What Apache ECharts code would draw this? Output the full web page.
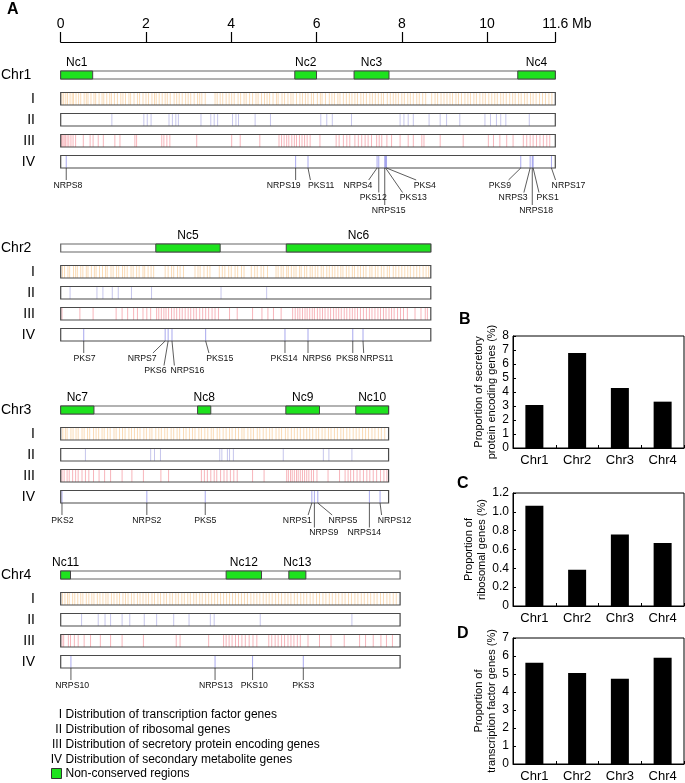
<!DOCTYPE html>
<html><head><meta charset="utf-8">
<script src="https://cdn.jsdelivr.net/npm/echarts@6/dist/echarts.min.js"></script>
<style>html,body{margin:0;padding:0;background:#fff}#c{width:685px;height:783px}</style>
</head><body><div id="c"></div>
<script>
// ---------------- DATA ----------------
const chrNames = ['Chr1', 'Chr2', 'Chr3', 'Chr4'];
const chrLengths = [11.6, 8.68, 7.69, 7.96];           // Mb
const scaleMax = 11.6;

const ncNames = ['Nc1','Nc2','Nc3','Nc4','Nc5','Nc6','Nc7','Nc8','Nc9','Nc10','Nc11','Nc12','Nc13'];
const ncChr   = [0, 0, 0, 0, 1, 1, 2, 2, 2, 2, 3, 3, 3];
const ncStart = [0, 5.49, 6.88, 10.72, 2.23, 5.29, 0, 3.21, 5.28, 6.92, 0, 3.88, 5.35];
const ncEnd   = [0.75, 6.0, 7.70, 11.6, 3.74, 8.68, 0.78, 3.52, 6.07, 7.69, 0.23, 4.71, 5.75];

const trackLabels = ['I', 'II', 'III', 'IV'];

// I  transcription factor genes (Mb)
const chr1TF = [0.03,0.07,0.12,0.16,0.22,0.27,0.3,0.36,0.42,0.47,0.55,0.6,0.64,0.71,0.78,0.82,0.9,0.97,1.01,1.08,1.15,1.19,1.26,1.33,1.41,1.46,1.52,1.6,1.64,1.72,1.8,1.85,1.93,2.0,2.06,2.14,2.2,2.24,2.31,2.38,2.45,2.5,2.57,2.66,2.72,2.78,2.85,2.93,2.99,3.05,3.13,3.21,3.26,3.31,3.39,3.62,3.67,3.74,3.8,3.88,3.95,4.01,4.07,4.16,4.22,4.3,4.35,4.43,4.5,4.58,4.63,4.71,4.78,4.84,4.9,4.98,5.06,5.1,5.19,5.25,5.33,5.4,5.45,5.53,5.61,5.67,5.74,5.8,5.88,5.93,6.02,6.09,6.13,6.21,6.3,6.36,6.42,6.5,6.55,6.63,6.7,6.77,6.83,6.9,6.96,7.04,7.1,7.17,7.25,7.31,7.38,7.45,7.52,7.57,7.66,7.73,7.8,7.86,7.92,8.0,8.06,8.14,8.2,8.27,8.35,8.41,8.49,8.56,8.7,8.78,8.84,8.92,8.99,9.06,9.13,9.19,9.27,9.33,9.4,9.48,9.55,9.61,9.69,9.75,9.83,9.9,9.96,10.04,10.11,10.18,10.24,10.32,10.38,10.45,10.53,10.6,10.66,10.74,10.8,10.88,10.94,11.02,11.08,11.15,11.23,11.3,11.37,11.45,11.52];
const chr2TF = [0.04,0.09,0.17,0.21,0.3,0.35,0.39,0.47,0.52,0.6,0.64,0.72,0.79,0.83,0.91,0.98,1.05,1.09,1.18,1.23,1.31,1.36,1.45,1.5,1.56,1.65,1.7,1.78,1.84,1.93,1.97,2.05,2.12,2.18,2.45,2.52,2.6,2.65,2.74,2.8,2.88,3.15,3.22,3.27,3.36,3.44,3.5,3.72,3.79,3.85,3.94,4.0,4.09,4.15,4.24,4.3,4.47,4.55,4.61,4.7,4.76,4.85,5.05,5.1,5.17,5.22,5.3,5.34,5.41,5.47,5.52,5.6,5.64,5.72,5.77,5.85,5.9,5.97,6.03,6.11,6.16,6.24,6.3,6.37,6.43,6.5,6.57,6.62,6.7,6.76,6.84,6.89,6.97,7.03,7.1,7.16,7.25,7.3,7.38,7.44,7.52,7.58,7.66,7.71,7.8,7.86,7.93,8.0,8.07,8.14,8.2,8.28,8.35,8.42,8.5,8.57,8.63];
const chr3TF = [0.05,0.11,0.15,0.24,0.29,0.36,0.41,0.5,0.55,0.63,0.68,0.77,0.83,0.89,0.97,1.02,1.1,1.16,1.25,1.3,1.38,1.45,1.51,1.6,1.66,1.73,1.8,1.86,1.95,2.01,2.09,2.14,2.23,2.3,2.36,2.44,2.5,2.59,2.65,2.73,2.79,2.88,2.94,3.02,3.09,3.15,3.24,3.3,3.38,3.45,3.53,3.58,3.67,3.73,3.81,3.88,3.96,4.02,4.1,4.17,4.25,4.3,4.39,4.46,4.52,4.61,4.67,4.75,4.82,4.9,4.96,5.05,5.12,5.18,5.27,5.33,5.41,5.48,5.55,5.62,5.7,5.77,5.84,5.91,5.99,6.05,6.13,6.2,6.28,6.34,6.42,6.49,6.57,6.63,6.71,6.78,6.86,6.93,7.0,7.08,7.15,7.22,7.3,7.37,7.45,7.52,7.6];
const chr4TF = [0.04,0.1,0.16,0.2,0.28,0.33,0.4,0.47,0.52,0.6,0.66,0.73,0.78,0.86,0.92,0.99,1.06,1.11,1.19,1.25,1.32,1.38,1.46,1.52,1.58,1.66,1.72,1.8,1.86,1.93,2.0,2.06,2.14,2.2,2.28,2.34,2.42,2.48,2.56,2.62,2.7,2.76,2.84,2.9,2.98,3.04,3.12,3.18,3.26,3.32,3.4,3.47,3.54,3.61,3.68,3.75,3.82,3.89,3.96,4.03,4.1,4.17,4.24,4.31,4.38,4.46,4.53,4.6,4.67,4.75,4.82,4.89,4.96,5.04,5.11,5.18,5.26,5.33,5.4,5.48,5.55,5.63,5.7,5.77,5.85,5.92,6.0,6.07,6.15,6.22,6.3,6.37,6.45,6.52,6.6,6.67,6.75,6.82,6.9,6.97,7.05,7.12,7.2,7.27,7.35,7.42,7.5,7.57,7.65,7.72,7.8,7.87];

// II ribosomal genes (Mb)
const chr1Ribo = [1.20,1.95,2.03,2.12,2.54,2.62,2.70,2.76,3.29,3.52,3.60,3.68,4.03,4.11,4.17,4.56,4.92,6.10,6.24,6.37,6.82,7.96,8.05,8.15,8.27,8.64,8.90,9.05,9.36,9.95,10.08,10.22,10.32,10.44,10.99];
const chr2Ribo = [0.22,0.85,0.99,1.21,1.35,1.66,2.13,3.76,4.83];
const chr3Ribo = [0.58,2.11,2.2,2.34,3.73,3.78,3.91,3.96,4.05,5.22,6.16,6.29,6.83];
const chr4Ribo = [0.49,0.88,1.04,1.17,1.44,1.62,1.96,2.25,2.65,3.01,3.51,3.6,4.68,6.83];

// III secretory protein encoding genes (Mb)
const chr1Secr = [0.02,0.05,0.08,0.11,0.15,0.19,0.24,0.29,0.35,0.53,0.69,0.76,0.88,1.0,1.27,1.39,1.74,1.78,2.37,2.42,2.49,2.56,3.19,4.01,4.21,4.67,5.12,5.18,5.24,5.3,5.35,5.42,5.48,5.53,5.6,5.66,5.72,5.78,5.85,6.08,6.46,6.53,6.63,6.71,6.78,6.9,6.98,7.06,7.14,7.21,7.29,7.41,7.47,7.53,7.65,7.76,7.96,8.15,8.27,8.47,8.52,8.9,9.44,10.03,10.15,10.3,10.46,10.61,10.85,10.93,11.01,11.08,11.16,11.24,11.32,11.4,11.47];
const chr2Secr = [0.03,0.45,0.76,1.3,1.44,1.57,1.71,1.8,1.93,2.02,2.11,2.25,2.3,2.36,2.42,2.47,2.53,2.6,2.66,2.72,2.79,2.85,2.92,2.99,3.05,3.12,3.18,3.26,3.33,3.4,3.47,3.55,3.62,3.7,3.96,4.14,4.5,4.72,4.86,4.99,5.17,5.44,5.5,5.56,5.61,5.67,5.73,5.78,5.84,5.9,5.95,6.02,6.08,6.14,6.2,6.27,6.33,6.4,6.46,6.52,6.58,6.65,6.71,6.78,6.84,6.9,6.96,7.03,7.1,7.17,7.24,7.3,7.37,7.44,7.5,7.57,7.63,7.7,7.76,7.82,7.9,7.97,8.04,8.13,8.31,8.45,8.55,8.6];
const chr3Secr = [0.03,0.08,0.15,0.2,0.28,0.35,0.41,0.5,0.58,0.66,0.77,0.9,1.03,1.17,1.44,1.67,1.94,2.35,2.53,3.3,3.37,3.44,3.52,3.6,3.66,3.75,3.83,3.9,3.98,4.06,4.14,4.5,4.77,5.3,5.34,5.39,5.43,5.48,5.53,5.57,5.62,5.67,5.72,5.77,5.82,5.88,5.93,6.01,6.27,6.54,6.67,6.74,6.8,6.87,6.95,7.02,7.1,7.18,7.25,7.33,7.41,7.5,7.58,7.65];
const chr4Secr = [0.03,0.07,0.18,0.23,0.32,0.41,0.55,0.7,0.93,1.17,1.44,1.94,2.71,2.8,3.47,3.82,3.88,3.95,4.02,4.1,4.17,4.25,4.33,4.42,4.51,4.6,4.88,4.95,5.03,5.1,5.18,5.25,5.33,5.4,5.47,5.55,5.62,5.8,6.07,6.34,6.65,7.01,7.15,7.33,7.51,7.64,7.78];

// IV secondary metabolite genes
const smNames = ['NRPS8','NRPS19','PKS11','NRPS4','PKS12','NRPS15','PKS13','PKS4','PKS9','NRPS3','NRPS18','PKS1','NRPS17',
                 'PKS7','NRPS7','PKS6','NRPS16','PKS15','PKS14','NRPS6','PKS8','NRPS11',
                 'PKS2','NRPS2','PKS5','NRPS1','NRPS9','NRPS5','NRPS14','NRPS12',
                 'NRPS10','NRPS13','PKS10','PKS3'];
const smChr = [0,0,0,0,0,0,0,0,0,0,0,0,0, 1,1,1,1,1,1,1,1,1, 2,2,2,2,2,2,2,2, 3,3,3,3];
const smPos = [0.13,5.51,5.80,7.42,7.46,7.60,7.62,7.64,10.79,11.01,11.06,11.08,11.51,
               0.54,2.45,2.52,2.61,3.40,5.26,5.80,6.85,7.09,
               0.03,2.02,3.39,5.89,5.95,6.03,7.24,7.49,
               0.24,3.62,4.50,5.69];
const smLabelPos = [0.17,5.23,6.11,6.97,7.33,7.69,8.27,8.54,10.30,10.61,11.15,11.42,11.91,
                    0.56,1.91,2.22,2.97,3.73,5.24,6.01,6.72,7.41,
                    0.04,2.02,3.39,5.55,6.17,6.62,7.12,7.83,
                    0.27,3.64,4.54,5.69];
const smRow = [0,0,0,0,1,2,1,0,0,1,2,1,0, 0,0,1,1,0,0,0,0,0, 0,0,0,0,1,0,1,0, 0,0,0,0];

const legendNums = ['I', 'II', 'III', 'IV'];
const legendTexts = ['Distribution of transcription factor genes', 'Distribution of ribosomal genes',
  'Distribution of secretory protein encoding genes', 'Distribution of secondary metabolite genes'];
const legendNc = 'Non-conserved regions';

// bar panels B, C, D
const barCats = ['Chr1', 'Chr2', 'Chr3', 'Chr4'];
const secretoryPct = [3.07, 6.78, 4.28, 3.31];
const ribosomalPct = [1.065, 0.385, 0.76, 0.67];
const tfPct = [5.62, 5.05, 4.73, 5.9];

// ---------------- LAYOUT / STYLE ----------------
const FONT = '"Liberation Sans", Arial, Helvetica, sans-serif';
const NARROW = '"Liberation Sans Narrow", "Liberation Sans", Arial, sans-serif';
const CHR_TOP = [71, 244, 406, 571];
const BAR_H = 8;
const TRACK_OFF = [21.5, 42.5, 63.5, 84.5];
const TRACK_H = 12.5;
const ROW_Y = [17.5, 30, 42.5];
const TRACK_COLORS = ['rgba(242,170,80,0.42)', 'rgba(120,120,210,0.42)', 'rgba(235,70,85,0.4)', 'rgba(110,110,225,0.6)'];
const GREEN = '#1ee21e';

const tfAll = [chr1TF, chr2TF, chr3TF, chr4TF];
const riboAll = [chr1Ribo, chr2Ribo, chr3Ribo, chr4Ribo];
const secrAll = [chr1Secr, chr2Secr, chr3Secr, chr4Secr];

const lineData = [];
[tfAll, riboAll, secrAll].forEach((arr, t) => arr.forEach((list, c) => list.forEach(p => lineData.push([p, c, t]))));
smPos.forEach((p, i) => lineData.push([p, smChr[i], 3]));

const boxData = [];
chrLengths.forEach((L, c) => { for (let t = 0; t < 4; t++) boxData.push([L, c, t]); });
const chrData = chrLengths.map((L, c) => [L, c]);
const ncData = ncNames.map((n, i) => [ncStart[i], ncEnd[i], ncChr[i], i]);
const smData = smNames.map((n, i) => [smPos[i], smLabelPos[i], smChr[i], smRow[i], i]);

function txt(o) {
  return Object.assign({ fill: '#000', fontFamily: FONT }, o, {
    textAlign: o.align, textVerticalAlign: o.verticalAlign
  });
}

const graphics = [];
graphics.push({ type: 'text', x: 7, y: 9.5, style: txt({ text: 'A', fontSize: 16, fontWeight: 'bold', align: 'left', verticalAlign: 'middle' }) });
graphics.push({ type: 'text', x: 459, y: 319.5, style: txt({ text: 'B', fontSize: 16, fontWeight: 'bold', align: 'left', verticalAlign: 'middle' }) });
graphics.push({ type: 'text', x: 457, y: 484, style: txt({ text: 'C', fontSize: 16, fontWeight: 'bold', align: 'left', verticalAlign: 'middle' }) });
graphics.push({ type: 'text', x: 457, y: 634, style: txt({ text: 'D', fontSize: 16, fontWeight: 'bold', align: 'left', verticalAlign: 'middle' }) });
graphics.push({ type: 'text', x: 572, y: 24, style: txt({ text: 'Mb', fontSize: 14, align: 'left', verticalAlign: 'middle' }) });
chrNames.forEach((n, c) => {
  graphics.push({ type: 'text', x: 1, y: CHR_TOP[c] + BAR_H / 2, style: txt({ text: n, fontSize: 14, align: 'left', verticalAlign: 'middle' }) });
  trackLabels.forEach((t, k) => {
    graphics.push({ type: 'text', x: 35, y: CHR_TOP[c] + TRACK_OFF[k] + TRACK_H / 2, style: txt({ text: t, fontSize: 14, align: 'right', verticalAlign: 'middle' }) });
  });
});
const LEG_Y = [715, 729.5, 744.5, 759.5];
legendNums.forEach((n, i) => {
  graphics.push({ type: 'text', x: 62, y: LEG_Y[i], style: txt({ text: n, fontSize: 12, align: 'right', verticalAlign: 'middle' }) });
  graphics.push({ type: 'text', x: 65.5, y: LEG_Y[i], style: txt({ text: legendTexts[i], fontSize: 12, align: 'left', verticalAlign: 'middle' }) });
});
graphics.push({ type: 'rect', shape: { x: 51.5, y: 768.5, width: 10, height: 10 }, style: { fill: GREEN, stroke: '#333', lineWidth: 1 } });
graphics.push({ type: 'text', x: 65.5, y: 774, style: txt({ text: legendNc, fontSize: 12, align: 'left', verticalAlign: 'middle' }) });

function xOf(api, v) { return api.coord([v, 0])[0]; }

const series = [
  { // gene lines
    type: 'custom', xAxisIndex: 0, yAxisIndex: 0, z: 2, clip: false, silent: true,
    data: lineData,
    renderItem: (params, api) => {
      const x = xOf(api, api.value(0));
      const c = api.value(1), t = api.value(2);
      const y0 = CHR_TOP[c] + TRACK_OFF[t];
      return { type: 'line', shape: { x1: x, y1: y0, x2: x, y2: y0 + TRACK_H }, style: { stroke: TRACK_COLORS[t], lineWidth: 1 } };
    }
  },
  { // track boxes
    type: 'custom', xAxisIndex: 0, yAxisIndex: 0, z: 3, clip: false, silent: true,
    data: boxData,
    renderItem: (params, api) => {
      const x0 = xOf(api, 0), x1 = xOf(api, api.value(0));
      const c = api.value(1), t = api.value(2);
      const y0 = CHR_TOP[c] + TRACK_OFF[t];
      return { type: 'rect', shape: { x: x0, y: y0, width: x1 - x0, height: TRACK_H }, style: { fill: 'none', stroke: '#4a4a4a', lineWidth: 1.2 } };
    }
  },
  { // chromosome bars
    type: 'custom', xAxisIndex: 0, yAxisIndex: 0, z: 2, clip: false, silent: true,
    data: chrData,
    renderItem: (params, api) => {
      const x0 = xOf(api, 0), x1 = xOf(api, api.value(0));
      const c = api.value(1);
      return { type: 'rect', shape: { x: x0, y: CHR_TOP[c], width: x1 - x0, height: BAR_H }, style: { fill: '#fff', stroke: '#666', lineWidth: 1.2 } };
    }
  },
  { // non-conserved regions
    type: 'custom', xAxisIndex: 0, yAxisIndex: 0, z: 3, clip: false, silent: true,
    data: ncData,
    renderItem: (params, api) => {
      const x0 = xOf(api, api.value(0)), x1 = xOf(api, api.value(1));
      const c = api.value(2), i = api.value(3);
      return { type: 'group', children: [
        { type: 'rect', shape: { x: x0, y: CHR_TOP[c], width: x1 - x0, height: BAR_H }, style: { fill: GREEN, stroke: '#444', lineWidth: 1 } },
        { type: 'text', style: txt({ text: ncNames[i], x: (x0 + x1) / 2, y: CHR_TOP[c] - 8.5, fontSize: 12, align: 'center', verticalAlign: 'middle' }) }
      ] };
    }
  },
  { // secondary metabolite gene labels
    type: 'custom', xAxisIndex: 0, yAxisIndex: 0, z: 3, clip: false, silent: true,
    data: smData,
    renderItem: (params, api) => {
      const gx = xOf(api, api.value(0)), lx = xOf(api, api.value(1));
      const c = api.value(2), r = api.value(3), i = api.value(4);
      const yb = CHR_TOP[c] + TRACK_OFF[3] + TRACK_H;
      const ty = yb + ROW_Y[r];
      const w = smNames[i].length * 5.4;
      const ex = Math.max(lx - w * 0.4, Math.min(lx + w * 0.4, gx));
      return { type: 'group', children: [
        { type: 'line', shape: { x1: gx, y1: yb, x2: ex, y2: ty - 5.5 }, style: { stroke: '#333', lineWidth: 0.8 } },
        { type: 'text', style: txt({ text: smNames[i], x: lx, y: ty, fontSize: 8.7, fill: '#111', align: 'center', verticalAlign: 'middle' }) }
      ] };
    }
  }
];

// bar charts
const barGrids = [
  { left: 513, top: 336, width: 171, height: 112 },
  { left: 513, top: 493, width: 171, height: 113 },
  { left: 513, top: 638, width: 171, height: 127 }
];
const barSpecs = [
  { data: secretoryPct, max: 8, interval: 1, name: 'Proportion of secretory\nprotein encoding genes (%)', gap: 14 },
  { data: ribosomalPct, max: 1.2, interval: 0.2, name: 'Proportion of\nribosomal genes (%)', gap: 23 },
  { data: tfPct, max: 7, interval: 1, name: 'Proportion of\ntranscription factor genes (%)', gap: 13 }
];

const grids = [{ left: 60.7, top: 42, width: 494.6, height: 650 }];
const xAxes = [{
  gridIndex: 0, type: 'value', min: 0, max: scaleMax, interval: 2, position: 'top',
  axisLine: { show: true, onZero: false, lineStyle: { color: '#000', width: 1.2 } },
  axisTick: { show: true, length: 10, lineStyle: { color: '#000', width: 1.2 } },
  axisLabel: { show: true, fontSize: 14, color: '#000', margin: 11, fontFamily: FONT, showMaxLabel: true, showMinLabel: true,
    formatter: v => String(Math.round(v * 10) / 10) },
  splitLine: { show: false }
}];
const yAxes = [{ gridIndex: 0, type: 'value', min: 0, max: 1, show: false }];

barSpecs.forEach((s, k) => {
  const gi = k + 1;
  grids.push(Object.assign({ show: true, borderColor: '#000', borderWidth: 1, backgroundColor: 'transparent' }, barGrids[k]));
  xAxes.push({
    gridIndex: gi, type: 'category', data: barCats,
    axisLine: { show: true, lineStyle: { color: '#000', width: 1 } },
    axisTick: { show: true, inside: true, length: 3, lineStyle: { color: '#000' } },
    axisLabel: { fontSize: 13, color: '#000', margin: 6, fontFamily: NARROW }
  });
  yAxes.push({
    gridIndex: gi, type: 'value', min: 0, max: s.max, interval: s.interval,
    name: s.name, nameLocation: 'middle', nameRotate: 90, nameGap: s.gap,
    nameTextStyle: { fontSize: 11, color: '#000', fontFamily: FONT, lineHeight: 13 },
    axisLine: { show: true, lineStyle: { color: '#000', width: 1 } },
    axisTick: { show: true, inside: true, length: 3, lineStyle: { color: '#000' } },
    axisLabel: { fontSize: 12, color: '#000', margin: 4, fontFamily: NARROW,
      formatter: v => (s.interval < 1 ? (v === 0 ? '0' : v.toFixed(1)) : String(v)) },
    splitLine: { show: false }
  });
  series.push({
    type: 'bar', xAxisIndex: gi, yAxisIndex: gi, data: s.data, barWidth: 18,
    itemStyle: { color: '#000' }, silent: true
  });
});

const chart = echarts.init(document.getElementById('c'), null, { renderer: 'canvas' });
chart.setOption({
  animation: false,
  backgroundColor: '#fff',
  textStyle: { fontFamily: FONT },
  grid: grids, xAxis: xAxes, yAxis: yAxes, series: series,
  graphic: { elements: graphics }
});
</script></body></html>
